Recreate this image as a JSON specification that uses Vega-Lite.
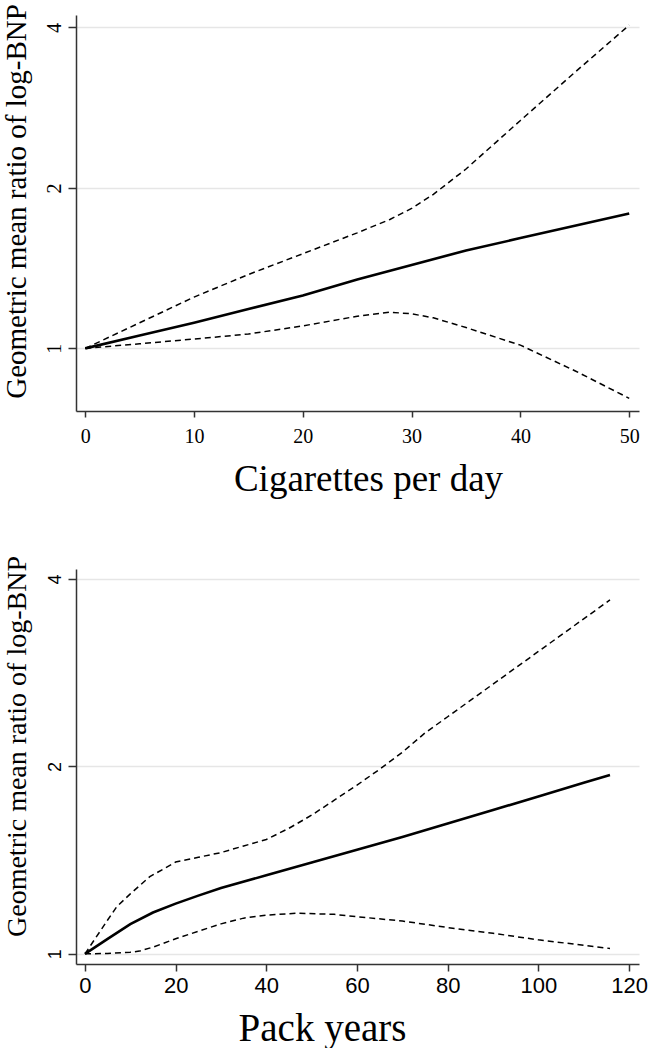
{
  "$schema": "https://vega.github.io/schema/vega-lite/v6.json",
  "background": "white",
  "padding": {"left": 1, "top": 3, "right": 0, "bottom": 0},
  "bounds": "flush",
  "spacing": 158,
  "config": {"view": {"stroke": null}},
  "datasets": {
    "cig": [
      {"x": 0, "series": "est", "y": 1.0}, {"x": 5, "series": "est", "y": 1.057}, {"x": 10, "series": "est", "y": 1.117}, {"x": 15, "series": "est", "y": 1.185}, {"x": 20, "series": "est", "y": 1.257}, {"x": 25, "series": "est", "y": 1.347}, {"x": 30, "series": "est", "y": 1.434}, {"x": 35, "series": "est", "y": 1.526}, {"x": 40, "series": "est", "y": 1.61}, {"x": 45, "series": "est", "y": 1.698}, {"x": 50, "series": "est", "y": 1.791},
      {"x": 0, "series": "hi", "y": 1.0}, {"x": 5, "series": "hi", "y": 1.117}, {"x": 10, "series": "hi", "y": 1.248}, {"x": 15, "series": "hi", "y": 1.376}, {"x": 20, "series": "hi", "y": 1.505}, {"x": 25, "series": "hi", "y": 1.647}, {"x": 28, "series": "hi", "y": 1.745}, {"x": 30, "series": "hi", "y": 1.83}, {"x": 32, "series": "hi", "y": 1.945}, {"x": 35, "series": "hi", "y": 2.17}, {"x": 40, "series": "hi", "y": 2.676}, {"x": 45, "series": "hi", "y": 3.294}, {"x": 50, "series": "hi", "y": 4.039},
      {"x": 0, "series": "lo", "y": 1.0}, {"x": 5, "series": "lo", "y": 1.02}, {"x": 10, "series": "lo", "y": 1.041}, {"x": 15, "series": "lo", "y": 1.064}, {"x": 20, "series": "lo", "y": 1.102}, {"x": 25, "series": "lo", "y": 1.149}, {"x": 28, "series": "lo", "y": 1.169}, {"x": 30, "series": "lo", "y": 1.161}, {"x": 32, "series": "lo", "y": 1.141}, {"x": 35, "series": "lo", "y": 1.094}, {"x": 40, "series": "lo", "y": 1.014}, {"x": 45, "series": "lo", "y": 0.908}, {"x": 50, "series": "lo", "y": 0.806}
    ],
    "pack": [
      {"x": 0, "series": "est", "y": 1.0}, {"x": 5, "series": "est", "y": 1.057}, {"x": 10, "series": "est", "y": 1.116}, {"x": 15, "series": "est", "y": 1.165}, {"x": 20, "series": "est", "y": 1.204}, {"x": 25, "series": "est", "y": 1.24}, {"x": 30, "series": "est", "y": 1.275}, {"x": 40, "series": "est", "y": 1.337}, {"x": 50, "series": "est", "y": 1.402}, {"x": 60, "series": "est", "y": 1.47}, {"x": 70, "series": "est", "y": 1.541}, {"x": 80, "series": "est", "y": 1.619}, {"x": 90, "series": "est", "y": 1.702}, {"x": 100, "series": "est", "y": 1.789}, {"x": 110, "series": "est", "y": 1.882}, {"x": 115.8, "series": "est", "y": 1.937},
      {"x": 0, "series": "hi", "y": 1.0}, {"x": 5, "series": "hi", "y": 1.133}, {"x": 7, "series": "hi", "y": 1.19}, {"x": 10, "series": "hi", "y": 1.248}, {"x": 14.3, "series": "hi", "y": 1.33}, {"x": 20, "series": "hi", "y": 1.404}, {"x": 25, "series": "hi", "y": 1.429}, {"x": 30, "series": "hi", "y": 1.454}, {"x": 35, "series": "hi", "y": 1.49}, {"x": 40, "series": "hi", "y": 1.526}, {"x": 45, "series": "hi", "y": 1.591}, {"x": 50, "series": "hi", "y": 1.67}, {"x": 55, "series": "hi", "y": 1.765}, {"x": 60, "series": "hi", "y": 1.866}, {"x": 65, "series": "hi", "y": 1.979}, {"x": 70, "series": "hi", "y": 2.107}, {"x": 75, "series": "hi", "y": 2.263}, {"x": 80, "series": "hi", "y": 2.403}, {"x": 90, "series": "hi", "y": 2.711}, {"x": 100, "series": "hi", "y": 3.059}, {"x": 110, "series": "hi", "y": 3.451}, {"x": 115.8, "series": "hi", "y": 3.701},
      {"x": 0, "series": "lo", "y": 1.0}, {"x": 5, "series": "lo", "y": 1.001}, {"x": 10, "series": "lo", "y": 1.006}, {"x": 12, "series": "lo", "y": 1.01}, {"x": 15, "series": "lo", "y": 1.025}, {"x": 20, "series": "lo", "y": 1.057}, {"x": 25, "series": "lo", "y": 1.087}, {"x": 30, "series": "lo", "y": 1.117}, {"x": 35, "series": "lo", "y": 1.141}, {"x": 40, "series": "lo", "y": 1.154}, {"x": 47, "series": "lo", "y": 1.162}, {"x": 55, "series": "lo", "y": 1.157}, {"x": 60, "series": "lo", "y": 1.147}, {"x": 70, "series": "lo", "y": 1.129}, {"x": 80, "series": "lo", "y": 1.102}, {"x": 90, "series": "lo", "y": 1.079}, {"x": 100, "series": "lo", "y": 1.053}, {"x": 110, "series": "lo", "y": 1.032}, {"x": 115.8, "series": "lo", "y": 1.02}
    ]
  },
  "vconcat": [
    {
      "width": 563,
      "height": 396,
      "data": {"name": "cig"},
      "encoding": {
        "x": {
          "field": "x", "type": "quantitative",
          "scale": {"domain": [-0.85, 50.9], "nice": false, "zero": false},
          "axis": {
            "values": [0, 10, 20, 30, 40, 50],
            "title": "Cigarettes per day",
            "titleFont": "Liberation Serif", "titleFontSize": 37, "titleFontWeight": "normal", "titleColor": "#000",
            "titleX": 292, "titleY": 79, "titleAlign": "center", "titleBaseline": "alphabetic",
            "labelFont": "Liberation Serif", "labelFontSize": 20, "labelColor": "#000",
            "labelBaseline": "top", "labelPadding": 9, "labelFlush": false, "labelOverlap": false,
            "tickSize": 6, "tickWidth": 1.5, "tickColor": "#333",
            "domainColor": "#333", "domainWidth": 1.5, "grid": false
          }
        },
        "y": {
          "field": "y", "type": "quantitative",
          "scale": {"type": "log", "base": 2, "domain": [0.763, 4.22], "nice": false, "zero": false},
          "axis": {
            "values": [1, 2, 4],
            "title": "Geometric mean ratio of log-BNP",
            "titleFont": "Liberation Serif", "titleFontSize": 29, "titleFontWeight": "normal", "titleColor": "#000",
            "titleAngle": -90, "titleX": -51, "titleY": 186, "titleAlign": "center", "titleBaseline": "alphabetic",
            "labelFont": "Liberation Serif", "labelFontSize": 20, "labelColor": "#000",
            "labelAngle": 270, "labelAlign": "center", "labelBaseline": "bottom", "labelPadding": 4,
            "labelFlush": false, "labelOverlap": false,
            "tickSize": 8, "tickWidth": 1.5, "tickColor": "#333",
            "domainColor": "#333", "domainWidth": 1.5,
            "grid": true, "gridColor": "#e6e6e6", "gridWidth": 1.5
          }
        }
      },
      "layer": [
        {
          "transform": [{"filter": "datum.series !== 'est'"}],
          "mark": {"type": "line", "color": "#000", "strokeWidth": 1.5, "strokeDash": [6, 4]},
          "encoding": {"detail": {"field": "series", "type": "nominal"}}
        },
        {
          "transform": [{"filter": "datum.series === 'est'"}],
          "mark": {"type": "line", "color": "#000", "strokeWidth": 2.6},
          "encoding": {}
        }
      ]
    },
    {
      "width": 563,
      "height": 395,
      "data": {"name": "pack"},
      "encoding": {
        "x": {
          "field": "x", "type": "quantitative",
          "scale": {"domain": [-1.98, 122.2], "nice": false, "zero": false},
          "axis": {
            "values": [0, 20, 40, 60, 80, 100, 120],
            "title": "Pack years",
            "titleFont": "Liberation Serif", "titleFontSize": 39, "titleFontWeight": "normal", "titleColor": "#000",
            "titleX": 246, "titleY": 76, "titleAlign": "center", "titleBaseline": "alphabetic",
            "labelFont": "Liberation Sans", "labelFontSize": 22, "labelColor": "#000",
            "labelBaseline": "top", "labelPadding": 4, "labelFlush": false, "labelOverlap": false,
            "tickSize": 7, "tickWidth": 1.5, "tickColor": "#333",
            "domainColor": "#333", "domainWidth": 1.5, "grid": false
          }
        },
        "y": {
          "field": "y", "type": "quantitative",
          "scale": {"type": "log", "base": 2, "domain": [0.963, 4.15], "nice": false, "zero": false},
          "axis": {
            "values": [1, 2, 4],
            "title": "Geometric mean ratio of log-BNP",
            "titleFont": "Liberation Serif", "titleFontSize": 28, "titleFontWeight": "normal", "titleColor": "#000",
            "titleAngle": -90, "titleX": -51, "titleY": 177, "titleAlign": "center", "titleBaseline": "alphabetic",
            "labelFont": "Liberation Sans", "labelFontSize": 18, "labelColor": "#000",
            "labelAngle": 270, "labelAlign": "center", "labelBaseline": "bottom", "labelPadding": 4,
            "labelFlush": false, "labelOverlap": false,
            "tickSize": 8, "tickWidth": 1.5, "tickColor": "#333",
            "domainColor": "#333", "domainWidth": 1.5,
            "grid": true, "gridColor": "#e6e6e6", "gridWidth": 1.5
          }
        }
      },
      "layer": [
        {
          "transform": [{"filter": "datum.series !== 'est'"}],
          "mark": {"type": "line", "color": "#000", "strokeWidth": 1.5, "strokeDash": [6, 4]},
          "encoding": {"detail": {"field": "series", "type": "nominal"}}
        },
        {
          "transform": [{"filter": "datum.series === 'est'"}],
          "mark": {"type": "line", "color": "#000", "strokeWidth": 2.6},
          "encoding": {}
        }
      ]
    }
  ]
}
